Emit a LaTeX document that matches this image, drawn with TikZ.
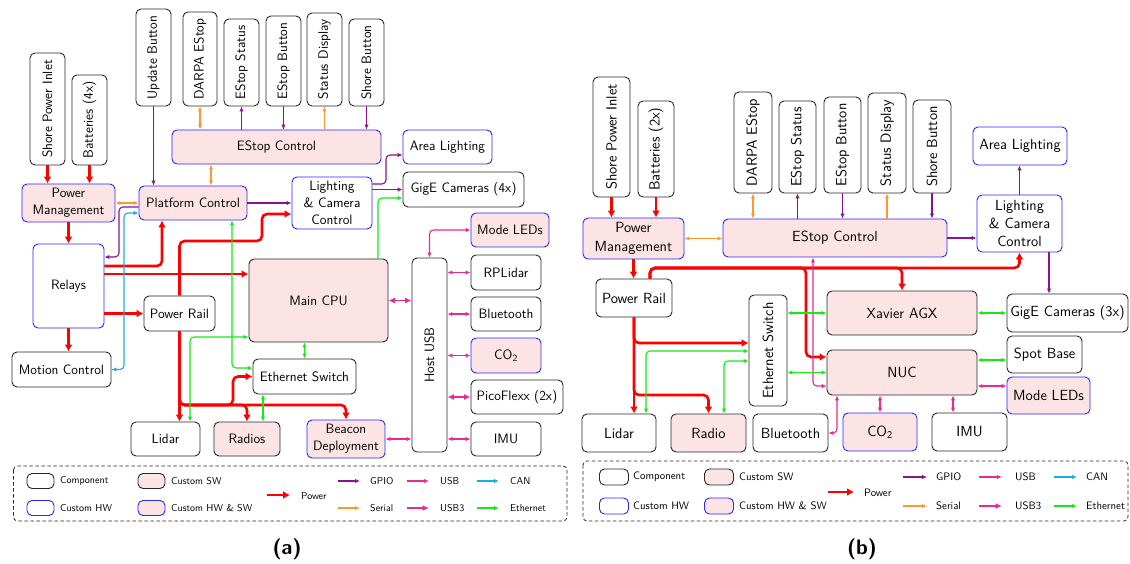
\documentclass[tikz,border=0pt]{standalone}
\usepackage{fontspec}
\usepackage{graphicx}
\usetikzlibrary{arrows.meta}
\definecolor{swfill}{RGB}{253,228,228}
\definecolor{gpioc}{RGB}{135,20,140}
\definecolor{serc}{RGB}{255,150,50}
\definecolor{usbc}{RGB}{235,40,150}
\definecolor{canc}{RGB}{30,170,230}
\definecolor{ethc}{RGB}{20,235,20}
\definecolor{bordc}{RGB}{40,40,40}
\definecolor{hwc}{RGB}{40,40,255}
\begin{document}
\begin{tikzpicture}[x=1pt,y=-1pt,
 box/.style={rounded corners=5pt, line width=0.9pt, inner sep=0pt, align=center},
 comp/.style={box, draw=bordc, fill=white},
 chw/.style={box, draw=hwc, fill=white},
 csw/.style={box, draw=bordc, fill=swfill},
 chs/.style={box, draw=hwc, fill=swfill},
 pw/.style={draw=red, line width=2.6pt, -{Latex[length=7pt,width=8pt]}, rounded corners=5pt},
 sig/.style={line width=1.1pt, rounded corners=4pt},
 sone/.style={sig, -{Latex[length=5pt,width=4.5pt]}},
 stwo/.style={sig, {Latex[length=5pt,width=4.5pt]}-{Latex[length=5pt,width=4.5pt]}},
 gpio/.style={sone, draw=gpioc},
 ser/.style={stwo, draw=serc},
 serone/.style={sone, draw=serc},
 usb/.style={stwo, draw=usbc},
 usbt/.style={line width=1.8pt, draw=usbc, {Latex[length=6.5pt,width=6pt]}-{Latex[length=6.5pt,width=6pt]}},
 usbtone/.style={line width=1.8pt, draw=usbc, -{Latex[length=6.5pt,width=6pt]}},
 can/.style={stwo, draw=canc},
 eth/.style={stwo, draw=ethc},
 ethone/.style={sone, draw=ethc},
 lbox/.style={rounded corners=5pt, line width=0.9pt, minimum width=27pt, minimum height=15pt, inner sep=0pt},
 frame/.style={draw=bordc, dash pattern=on 3.5pt off 2.5pt, line width=0.8pt, rounded corners=4pt},
 ltxt/.style={anchor=west, inner sep=0pt},
 title/.style={font=\fontsize{21}{23}\selectfont\sffamily\bfseries}
]
\useasboundingbox (0,0) rectangle (1130,564);

% ================= (a) =================
\begin{scope}[font=\fontsize{13.6}{17}\selectfont\sffamily]
\node[comp, minimum width=35pt, minimum height=112pt] (ashore) at (47.5,109) {\rotatebox{90}{Shore Power Inlet}};
\node[comp, minimum width=35pt, minimum height=90pt] (abat) at (89.5,120) {\rotatebox{90}{Batteries (4x)}};
\node[comp, minimum width=35pt, minimum height=97pt] (aupd) at (153.5,57.5) {\rotatebox{90}{Update Button}};
\node[comp, minimum width=34pt, minimum height=94pt] (adarpa) at (200,59) {\rotatebox{90}{DARPA EStop}};
\node[comp, minimum width=35pt, minimum height=87pt] (aestat) at (241.5,62.5) {\rotatebox{90}{EStop Status}};
\node[comp, minimum width=35pt, minimum height=90pt] (aebtn) at (283.5,61) {\rotatebox{90}{EStop Button}};
\node[comp, minimum width=35pt, minimum height=93pt] (asdisp) at (324.5,59.5) {\rotatebox{90}{Status Display}};
\node[comp, minimum width=35pt, minimum height=87pt] (ashbtn) at (366.5,62.5) {\rotatebox{90}{Shore Button}};
\node[chs, minimum width=209pt, minimum height=34pt] (aectl) at (276.5,147) {EStop Control};
\node[chw, minimum width=89pt, minimum height=34pt] (aarea) at (447.5,147) {Area Lighting};
\node[comp, minimum width=121pt, minimum height=35pt] (agige) at (463.5,189.5) {GigE Cameras (4x)};
\node[chw, minimum width=80pt, minimum height=52pt] (alcc) at (332,203) {Lighting\\\& Camera\\Control};
\node[chs, minimum width=78pt, minimum height=34pt] (amode) at (510,230) {Mode LEDs};
\node[chs, minimum width=93pt, minimum height=38pt] (apm) at (68.5,203) {Power\\Management};
\node[chs, minimum width=108pt, minimum height=34pt] (aplat) at (193,203) {Platform Control};
\node[chw, minimum width=71pt, minimum height=84pt] (arel) at (68.5,286) {Relays};
\node[comp, minimum width=71pt, minimum height=35pt] (aprail) at (179.5,313.5) {Power Rail};
\node[comp, minimum width=99pt, minimum height=35pt] (amot) at (61.5,369.5) {Motion Control};
\node[csw, minimum width=139pt, minimum height=83pt] (acpu) at (318.5,300.5) {Main CPU};
\node[comp, minimum width=103pt, minimum height=35pt] (aesw) at (304.5,376.5) {Ethernet Switch};
\node[comp, minimum width=69pt, minimum height=34pt] (alidar) at (165.5,439) {Lidar};
\node[csw, minimum width=66pt, minimum height=34pt] (aradio) at (247,439) {Radios};
\node[chs, minimum width=78pt, minimum height=38pt] (abeacon) at (346,439) {Beacon\\Deployment};
\node[comp, minimum width=35pt, minimum height=194pt] (ahub) at (429.5,355) {\rotatebox{90}{Host USB}};
\node[comp, minimum width=70pt, minimum height=35pt] (arpl) at (506,272.5) {RPLidar};
\node[comp, minimum width=70pt, minimum height=34pt] (abt) at (506,314) {Bluetooth};
\node[chs, minimum width=70pt, minimum height=35pt] (aco) at (506,355.5) {CO\textsubscript{2}};
\node[comp, minimum width=92pt, minimum height=34pt] (apico) at (517,397) {PicoFlexx (2x)};
\node[comp, minimum width=70pt, minimum height=34pt] (aimu) at (506,439) {IMU};
\end{scope}

% power (a)
\draw[pw] (ashore.south) -- (ashore.south |- apm.north);
\draw[pw] (abat.south) -- (abat.south |- apm.north);
\draw[pw] (apm.south) -- (arel.north);
\draw[pw] (arel.south) -- (arel.south |- amot.north);
\draw[pw] ([yshift=20pt]arel.east) -| ([xshift=-31pt]aplat.south);
\draw[pw] ([yshift=12pt]arel.east) -- ([yshift=12pt]arel.east -| acpu.west);
\draw[pw] (arel.east |- aprail.west) -- (aprail.west);
\draw[pw] (aprail.north) -- (179.5,241) -- (262,241) -- (262,214) -- ([yshift=-11pt]alcc.west);
\draw[pw] (aprail.south) -- (aprail.south |- alidar.north);
\draw[pw] (aprail.south) -- (179.5,405) -- (346,405) -- (abeacon.north);
\draw[pw] (aprail.south) -- (179.5,405) -- (247,405) -- (aradio.north);
\draw[pw] (aprail.south) -- (179.5,405) -- (233,405) -- (233,376.5) -- (aesw.west);

% gpio (a)
\draw[gpio] (aupd.south) -- (aupd.south |- aplat.north);
\draw[gpio] (aestat.south |- aectl.north) -- (aestat.south);
\draw[gpio] (aebtn.south) -- (aebtn.south |- aectl.north);
\draw[gpio] (ashbtn.south) -- (ashbtn.south |- aectl.north);
\draw[gpio] (aplat.east) -- (aplat.east -| alcc.west);
\draw[gpio] ([yshift=19pt]alcc.east) -- (386,184) -- (386,155) -- ([yshift=-8pt]aarea.west);
\draw[gpio] (alcc.east |- agige.west) -- (agige.west);
\draw[gpio] ([yshift=-4pt]aplat.west) -- (119,207) -- (119,257) -- ([yshift=29pt]arel.east);

% can (a)
\draw[can] (amot.east) -- (124,369.5) -- (124,213) -- ([yshift=-10pt]aplat.west);

% serial (a)
\draw[ser] (apm.east) -- (aplat.west);
\draw[ser] ([xshift=18pt]aplat.north) -- ([xshift=18pt]aplat.north |- aectl.south);
\draw[ser] (adarpa.south) -- (adarpa.south |- aectl.north);
\draw[serone] (asdisp.south |- aectl.north) -- (asdisp.south);

% ethernet (a)
\draw[eth] ([xshift=39pt]aplat.south) -- (232,368) -- ([yshift=8.5pt]aesw.west);
\draw[ethone] ([xshift=59.5pt]acpu.north) -- (378,198) -- ([yshift=-8.5pt]agige.west);
\draw[eth] (aesw.north |- acpu.south) -- (aesw.north);
\draw[eth] ([xshift=24.5pt]alidar.north) -- (190,337) -- ([yshift=-36.5pt]acpu.west);
\draw[eth] ([xshift=16pt]aradio.north) -- ([xshift=16pt]aradio.north |- aesw.south);

% usb (a)
\draw[usb] (ahub.north) |- (amode.west);
\draw[usbt] (acpu.east) -- (acpu.east -| ahub.west);
\draw[usb] (arpl.west -| ahub.east) -- (arpl.west);
\draw[usb] (abt.west -| ahub.east) -- (abt.west);
\draw[usb] (aco.west -| ahub.east) -- (aco.west);
\draw[usbt] (apico.west -| ahub.east) -- (apico.west);
\draw[usb] (aimu.west -| ahub.east) -- (aimu.west);
\draw[usb] (abeacon.east) -- (abeacon.east -| ahub.west);

% legend (a)
\draw[frame] (13.5,466) rectangle (567,521);
\begin{scope}[font=\fontsize{10}{12}\selectfont\sffamily]
\node[lbox, draw=bordc] (lac) at (40.5,481) {};
\node[ltxt] (lact) at (60,481) {Component};
\node[lbox, draw=bordc, fill=swfill] (las) at (151.5,481) {};
\node[ltxt] (last) at (171,481) {Custom SW};
\node[lbox, draw=hwc] (lah) at (40.5,508) {};
\node[ltxt] (laht) at (60,508) {Custom HW};
\node[lbox, draw=hwc, fill=swfill] (lahs) at (151.5,508) {};
\node[ltxt] (lahst) at (171,508) {Custom HW \& SW};
\coordinate (lap1) at (267,495); \coordinate (lap2) at (290,495);
\node[ltxt] (lapt) at (301,496) {Power};
\coordinate (lag1) at (338,481); \coordinate (lag2) at (360,481);
\node[ltxt] (lagt) at (370,481) {GPIO};
\coordinate (lau1) at (407,481); \coordinate (lau2) at (429,481);
\node[ltxt] (laut) at (440,481) {USB};
\coordinate (lac1) at (477,481); \coordinate (lac2) at (499,481);
\node[ltxt] (lact2) at (510,481) {CAN};
\coordinate (las1) at (338,508); \coordinate (las2) at (360,508);
\node[ltxt] (last2) at (370,508) {Serial};
\coordinate (lau31) at (407,508); \coordinate (lau32) at (429,508);
\node[ltxt] (lau3t) at (440,508) {USB3};
\coordinate (lae1) at (477,508); \coordinate (lae2) at (499,508);
\node[ltxt] (laet) at (510,508) {Ethernet};
\end{scope}
\draw[pw] (lap1) -- (lap2);
\draw[gpio] (lag1) -- (lag2);
\draw[usbc, sone] (lau1) -- (lau2);
\draw[canc, sone] (lac1) -- (lac2);
\draw[serone] (las1) -- (las2);
\draw[usbtone] (lau31) -- (lau32);
\draw[ethone] (lae1) -- (lae2);
\node[title] (tita) at (287,549) {(a)};

% ================= (b) =================
\begin{scope}[font=\fontsize{14.7}{18.4}\selectfont\sffamily]
\node[comp, minimum width=37pt, minimum height=120pt] (bshore) at (611.5,137) {\rotatebox{90}{Shore Power Inlet}};
\node[comp, minimum width=36pt, minimum height=96pt] (bbat) at (656,149) {\rotatebox{90}{Batteries (2x)}};
\node[chs, minimum width=101pt, minimum height=41pt] (bpm) at (633.5,238.5) {Power\\Management};
\node[chs, minimum width=224pt, minimum height=38pt] (bectl) at (835,238) {EStop Control};
\node[comp, minimum width=38pt, minimum height=101pt] (bdarpa) at (753,142.5) {\rotatebox{90}{DARPA EStop}};
\node[comp, minimum width=37pt, minimum height=92pt] (bestat) at (797.5,147) {\rotatebox{90}{EStop Status}};
\node[comp, minimum width=37pt, minimum height=96pt] (bebtn) at (842.5,145) {\rotatebox{90}{EStop Button}};
\node[comp, minimum width=38pt, minimum height=100pt] (bsdisp) at (887,143) {\rotatebox{90}{Status Display}};
\node[comp, minimum width=38pt, minimum height=93pt] (bshbtn) at (932,146.5) {\rotatebox{90}{Shore Button}};
\node[chw, minimum width=94pt, minimum height=38pt] (barea) at (1020,146) {Area Lighting};
\node[chw, minimum width=85pt, minimum height=57pt] (blcc) at (1019.5,223.5) {Lighting\\\& Camera\\Control};
\node[comp, minimum width=76pt, minimum height=38pt] (bprail) at (634,298) {Power Rail};
\node[comp, minimum width=38pt, minimum height=111pt] (besw) at (768,350.5) {\rotatebox{90}{Ethernet Switch}};
\node[comp, minimum width=74pt, minimum height=38pt] (blidar) at (619,433) {Lidar};
\node[csw, minimum width=75pt, minimum height=38pt] (bradio) at (708.5,433) {Radio};
\node[comp, minimum width=75pt, minimum height=38pt] (bbt) at (790.5,433) {Bluetooth};
\node[chs, minimum width=74pt, minimum height=38pt] (bco) at (880,432) {CO\textsubscript{2}};
\node[comp, minimum width=75pt, minimum height=38pt] (bimu) at (969.5,432) {IMU};
\node[csw, minimum width=150pt, minimum height=44pt] (bxav) at (902,313) {Xavier AGX};
\node[csw, minimum width=150pt, minimum height=45pt] (bnuc) at (902,372.5) {NUC};
\node[comp, minimum width=121pt, minimum height=38pt] (bgige) at (1067.5,313) {GigE Cameras (3x)};
\node[comp, minimum width=75pt, minimum height=37pt] (bspot) at (1044.5,354.5) {Spot Base};
\node[chs, minimum width=83pt, minimum height=37pt] (bmode) at (1048.5,395.5) {Mode LEDs};
\end{scope}

% power (b)
\draw[pw] (bshore.south) -- (bshore.south |- bpm.north);
\draw[pw] (bbat.south) -- (bbat.south |- bpm.north);
\draw[pw] (bpm.south) -- (bpm.south |- bprail.north);
\draw[pw] ([xshift=16pt]bprail.north) -- (650,268) -- (1019.5,268) -- (blcc.south);
\draw[pw] ([xshift=16pt]bprail.north) -- (650,268) -- (806,268) -- (806,357) -- ([yshift=15.5pt]bnuc.west);
\draw[pw] ([xshift=16pt]bprail.north) -- (650,268) -- (902,268) -- (bxav.north);
\draw[pw] (bprail.south) -- (bprail.south |- blidar.north);
\draw[pw] (bprail.south) -- (634,343) -- ([yshift=7.5pt]besw.west);
\draw[pw] (bprail.south) -- (634,395) -- (708.5,395) -- (bradio.north);

% serial (b)
\draw[ser] (bpm.east) -- (bpm.east -| bectl.west);
\draw[ser] (bdarpa.south) -- (bdarpa.south |- bectl.north);
\draw[serone] (bsdisp.south |- bectl.north) -- (bsdisp.south);

% gpio (b)
\draw[gpio] (bestat.south |- bectl.north) -- (bestat.south);
\draw[gpio] (bebtn.south) -- (bebtn.south |- bectl.north);
\draw[gpio] (bshbtn.south) -- (bshbtn.south |- bectl.north);
\draw[gpio] (bectl.east) -- (bectl.east -| blcc.west);
\draw[gpio] (blcc.north) -- (blcc.north |- barea.south);
\draw[gpio] ([xshift=29.5pt]blcc.south) -- ([xshift=29.5pt]blcc.south |- bgige.north);

% usb (b)
\draw[usb] ([xshift=-22pt]bectl.south) -- (813,386) -- ([yshift=-13.5pt]bnuc.west);
\draw[usb] ([yshift=-13.5pt]bnuc.east) -- ([yshift=-13.5pt]bnuc.east -| bmode.west);
\draw[usb] (bco.north |- bnuc.south) -- (bco.north);
\draw[usb] ([xshift=51pt]bnuc.south) -- ([xshift=51pt]bnuc.south |- bimu.north);
\draw[usb] (bbt.east) -| ([xshift=-65pt]bnuc.south);

% ethernet (b)
\draw[eth] (bxav.west -| besw.east) -- (bxav.west);
\draw[eth] (bnuc.west -| besw.east) -- (bnuc.west);
\draw[eth] (bxav.east) -- (bxav.east -| bgige.west);
\draw[eth] ([yshift=12.5pt]bnuc.east) -- ([yshift=12.5pt]bnuc.east -| bspot.west);
\draw[eth] ([xshift=27pt]blidar.north) -- (646,351) -- ([yshift=-0.5pt]besw.west);
\draw[eth] ([xshift=15.5pt]bradio.north) -- (724,361) -- ([yshift=-10.5pt]besw.west);

% legend (b)
\draw[frame] (583,461) rectangle (1128,521);
\begin{scope}[font=\fontsize{10.8}{13}\selectfont\sffamily]
\node[lbox, draw=bordc, minimum width=29pt, minimum height=16pt] (lbc) at (614,477) {};
\node[ltxt] (lbct) at (633,477) {Component};
\node[lbox, draw=bordc, fill=swfill, minimum width=29pt, minimum height=16pt] (lbs) at (719,477) {};
\node[ltxt] (lbst) at (739,477) {Custom SW};
\node[lbox, draw=hwc, minimum width=29pt, minimum height=16pt] (lbh) at (614,506) {};
\node[ltxt] (lbht) at (633,506) {Custom HW};
\node[lbox, draw=hwc, fill=swfill, minimum width=29pt, minimum height=16pt] (lbhs) at (719,506) {};
\node[ltxt] (lbhst) at (739,506) {Custom HW \& SW};
\coordinate (lbp1) at (828,492); \coordinate (lbp2) at (854,492);
\node[ltxt] (lbpt) at (864,493) {Power};
\coordinate (lbg1) at (903,477); \coordinate (lbg2) at (927,477);
\node[ltxt] (lbgt) at (936,477) {GPIO};
\coordinate (lbu1) at (979,477); \coordinate (lbu2) at (1002,477);
\node[ltxt] (lbut) at (1015,477) {USB};
\coordinate (lbc1) at (1054,477); \coordinate (lbc2) at (1077,477);
\node[ltxt] (lbct2) at (1086,477) {CAN};
\coordinate (lbs1) at (903,506); \coordinate (lbs2) at (927,506);
\node[ltxt] (lbst2) at (936,506) {Serial};
\coordinate (lbu31) at (979,506); \coordinate (lbu32) at (1002,506);
\node[ltxt] (lbu3t) at (1015,506) {USB3};
\coordinate (lbe1) at (1054,506); \coordinate (lbe2) at (1077,506);
\node[ltxt] (lbet) at (1086,506) {Ethernet};
\end{scope}
\draw[pw] (lbp1) -- (lbp2);
\draw[gpio] (lbg1) -- (lbg2);
\draw[usbc, sone] (lbu1) -- (lbu2);
\draw[canc, sone] (lbc1) -- (lbc2);
\draw[serone] (lbs1) -- (lbs2);
\draw[usbtone] (lbu31) -- (lbu32);
\draw[ethone] (lbe1) -- (lbe2);
\node[title] (titb) at (862,549) {(b)};
\end{tikzpicture}
\end{document}
